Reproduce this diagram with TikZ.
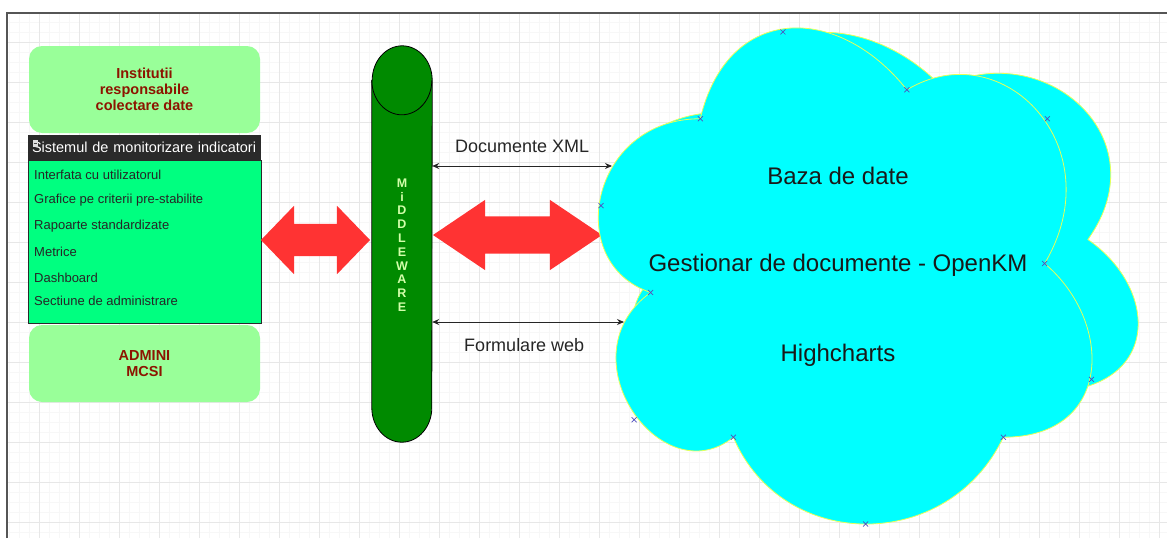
\documentclass[tikz,border=0pt]{standalone}
\usepackage{fontspec}
\setmainfont{Liberation Sans}
\usepackage{tikz}
\usetikzlibrary{shapes,arrows.meta,positioning,calc}
\definecolor{gridminor}{RGB}{247,247,247}
\definecolor{gridmajor}{RGB}{231,231,231}
\definecolor{framegray}{RGB}{85,85,85}
\definecolor{palegreen}{RGB}{153,255,153}
\definecolor{springgreen}{RGB}{0,255,128}
\definecolor{headdark}{RGB}{42,42,42}
\definecolor{darkred}{RGB}{140,20,0}
\definecolor{arrowred}{RGB}{255,51,51}
\definecolor{mwgreen}{RGB}{0,138,0}
\definecolor{mwtext}{RGB}{210,255,170}
\definecolor{cloudcyan}{RGB}{0,255,255}
\definecolor{cloudedge}{RGB}{230,255,90}
\definecolor{markblue}{RGB}{80,80,190}
\tikzstyle{roundbox} = [
    rectangle,
    rounded corners=13pt,
    minimum width=231pt,
    align=center,
    fill=palegreen,
    text=darkred,
    font=\fontsize{14.5}{16}\selectfont\bfseries
]
\tikzstyle{headbar} = [
    rectangle,
    minimum height=25pt,
    text width=225pt,
    inner xsep=4pt,
    align=left,
    fill=headdark,
    text=white,
    font=\fontsize{14.5}{16}\selectfont
]
\tikzstyle{listbody} = [
    rectangle,
    minimum width=233pt,
    minimum height=163pt,
    fill=springgreen,
    draw=headdark,
    line width=0.8pt
]
\tikzstyle{listitem} = [
    anchor=west,
    inner sep=0pt,
    text=black!85,
    font=\fontsize{13}{15}\selectfont
]
\tikzstyle{cylbody} = [
    fill=mwgreen,
    draw=black,
    line width=0.8pt
]
\tikzstyle{mwletters} = [
    align=center,
    inner sep=0pt,
    text=mwtext,
    font=\fontsize{12.5}{13.8}\selectfont\bfseries
]
\tikzstyle{fatarrow} = [
    double arrow,
    fill=arrowred,
    inner sep=0pt
]
\tikzstyle{datalink} = [
    line width=1pt,
    draw=black!85,
    {Stealth[length=7pt,width=6pt]}-{Stealth[length=7pt,width=6pt]}
]
\tikzstyle{linklabel} = [
    text=black!85,
    font=\fontsize{18}{20}\selectfont
]
\tikzstyle{cloudshape} = [
    fill=cloudcyan,
    draw=cloudedge,
    line width=0.8pt
]
\tikzstyle{cloudtext} = [
    text=black!90,
    font=\fontsize{24}{28}\selectfont
]
\tikzstyle{xmark} = [
    draw=markblue,
    line width=0.7pt
]
% cloud outline: x0, y0, width, height
\newcommand{\drawcloud}[4]{%
  \filldraw[cloudshape] ({#1+0.25*#3},{#2+0.25*#4})
    .. controls ({#1+0.05*#3},{#2+0.25*#4}) and ({#1},{#2+0.5*#4}) .. ({#1+0.16*#3},{#2+0.55*#4})
    .. controls ({#1},{#2+0.66*#4}) and ({#1+0.18*#3},{#2+0.9*#4}) .. ({#1+0.31*#3},{#2+0.8*#4})
    .. controls ({#1+0.4*#3},{#2+#4}) and ({#1+0.7*#3},{#2+#4}) .. ({#1+0.8*#3},{#2+0.8*#4})
    .. controls ({#1+#3},{#2+0.8*#4}) and ({#1+#3},{#2+0.6*#4}) .. ({#1+0.875*#3},{#2+0.5*#4})
    .. controls ({#1+#3},{#2+0.3*#4}) and ({#1+0.8*#3},{#2+0.1*#4}) .. ({#1+0.625*#3},{#2+0.2*#4})
    .. controls ({#1+0.5*#3},{#2+0.05*#4}) and ({#1+0.3*#3},{#2+0.05*#4}) .. ({#1+0.25*#3},{#2+0.25*#4})
    -- cycle;}
\begin{document}
\begin{tikzpicture}[x=1pt, y=-1pt]
    \useasboundingbox (0,0) rectangle (1167,538);
    % grid
    \foreach \gx in {9,19,...,1159} \draw[gridminor, line width=0.6pt] (\gx,14) -- (\gx,538);
    \foreach \gy in {22,32,...,532} \draw[gridminor, line width=0.6pt] (8,\gy) -- (1167,\gy);
    \foreach \gx in {39,79,...,1159} \draw[gridmajor, line width=0.7pt] (\gx,14) -- (\gx,538);
    \foreach \gy in {42,82,...,522} \draw[gridmajor, line width=0.7pt] (8,\gy) -- (1167,\gy);
    \draw[framegray, line width=2pt] (7,538) -- (7,13) -- (1167,13);

    % left column
    \node[roundbox, minimum height=87pt] (inst) at (144.5,89.5) {Institutii\\responsabile\\colectare date};
    \node[headbar] (sys) at (144.5,147.5) {Sistemul de monitorizare indicatori};
    \node[listbody, below=0pt of sys] (lst) {};
    \fill[gray!25] (32.5,139.5) rectangle (38,147);
    \draw[black!70, line width=0.8pt] (33.5,143.2) -- (37,143.2);
    \node[listitem] (itm1) at (34,174.5) {Interfata cu utilizatorul};
    \node[listitem] (itm2) at (34,200.5) {Grafice pe criterii pre-stabilite};
    \node[listitem] (itm3) at (34,226.5) {Rapoarte standardizate};
    \node[listitem] (itm4) at (34,252) {Metrice};
    \node[listitem] (itm5) at (34,277.5) {Dashboard};
    \node[listitem] (itm6) at (34,300.5) {Sectiune de administrare};
    \node[roundbox, minimum height=77pt] (adm) at (144.5,363.5) {ADMINI\\MCSI};

    % middleware
    \node[minimum width=60pt, minimum height=396pt, inner sep=0pt] (mw) at (402,244) {};
    \filldraw[cylbody] ($(mw.north west)+(0,34.5)$) -- ($(mw.south west)+(0,-34.5)$)
        arc[start angle=180, end angle=360, x radius=30pt, y radius=34.5pt]
        -- ($(mw.north east)+(0,34.5)$)
        arc[start angle=0, end angle=180, x radius=30pt, y radius=34.5pt] -- cycle;
    \draw[line width=0.8pt] ($(mw.north west)+(0,34.5)$) arc[start angle=180, end angle=360, x radius=30pt, y radius=34.5pt];
    \node[mwletters] (mwtxt) at (402,245) {M\\i\\D\\D\\L\\E\\W\\A\\R\\E};

    % fat arrows
    \node[fatarrow, minimum height=109pt, inner ysep=16pt, double arrow head extend=18pt, double arrow tip angle=92] (larr) at (315.5,240) {};
    \node[fatarrow, minimum height=169pt, inner ysep=18.5pt, double arrow head extend=16.5pt, double arrow tip angle=68] (rarr) at (517.5,235) {};

    % clouds
    \drawcloud{576}{-15}{585}{509}
    \drawcloud{562.5}{-26}{551}{579}
    \coordinate (cl) at (562.5,-26);
    \foreach \mx/\my in {0.25/0.25, 0.4/0.1, 0.16/0.55, 0.07/0.4, 0.31/0.8, 0.13/0.77, 0.8/0.8, 0.55/0.95, 0.875/0.5, 0.96/0.7, 0.625/0.2, 0.88/0.25}
        \draw[xmark] ($(cl)+(\mx*551,\my*579)$) +(-2.5,-2.5) -- +(2.5,2.5) +(-2.5,2.5) -- +(2.5,-2.5);
    \node[cloudtext] (baza) at (838,176) {Baza de date};
    \node[cloudtext] (okm) at (838,265) {Gestionar de documente - OpenKM};
    \node[cloudtext] (hch) at (838,355) {Highcharts};

    % thin connectors
    \coordinate (xmlend) at (612,166);
    \coordinate (webend) at (624,322);
    \draw[datalink] (mw.east |- xmlend) -- (xmlend) node[linklabel, midway, above=9pt] {Documente XML};
    \draw[datalink] (mw.east |- webend) -- (webend) node[linklabel, pos=0.48, below=13pt] {Formulare web};
\end{tikzpicture}
\end{document}
